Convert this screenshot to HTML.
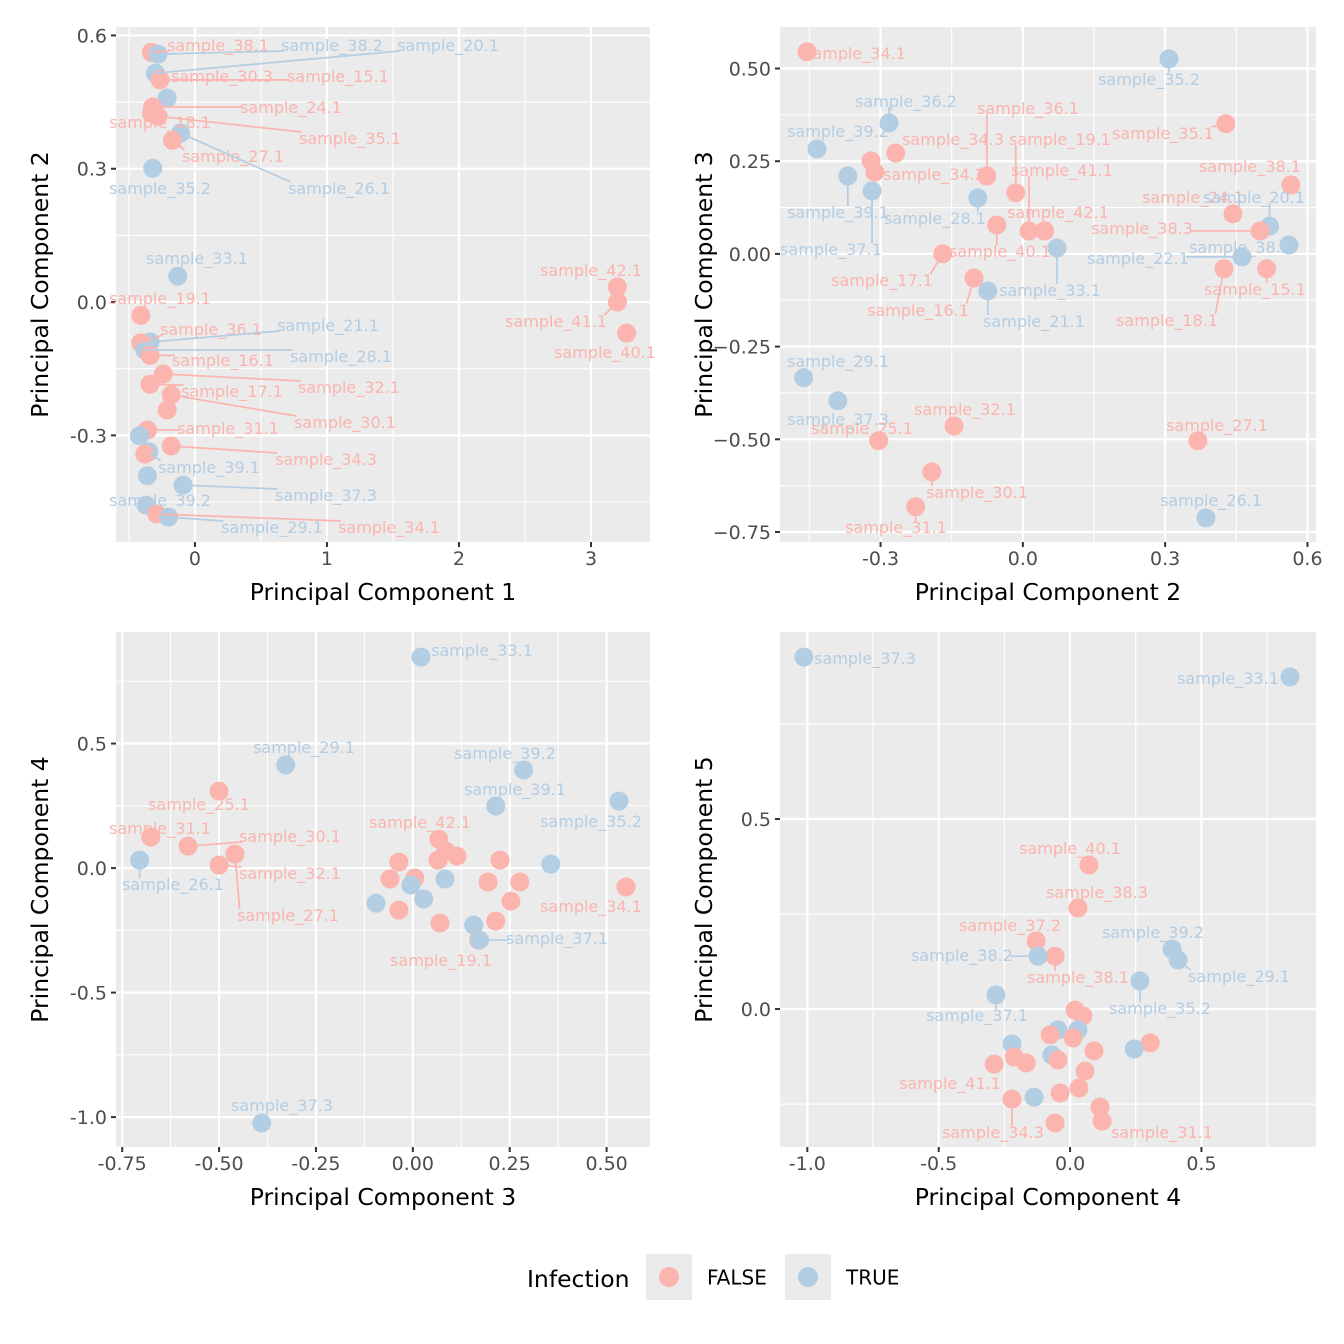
<!DOCTYPE html>
<html><head><meta charset="utf-8"><style>
html,body{margin:0;padding:0;background:#fff;}
svg{display:block;font-family:"DejaVu Sans","Liberation Sans",sans-serif;}
</style></head><body>
<svg id="chart" width="1344" height="1344" viewBox="0 0 1344 1344" xmlns="http://www.w3.org/2000/svg"></svg>
<script>
// ---------- DATA ----------
const p1X = [-0.33,-0.28,-0.30,-0.265,-0.21,-0.32,-0.33,-0.28,-0.11,-0.17,-0.32,-0.13,3.20,3.20,3.27,-0.41,-0.34,-0.41,-0.38,-0.34,-0.24,-0.34,-0.18,-0.21,-0.36,-0.42,-0.18,-0.35,-0.38,-0.36,-0.09,-0.37,-0.29,-0.20];
const p1Y = [0.562,0.558,0.515,0.50,0.459,0.439,0.425,0.418,0.38,0.364,0.301,0.058,0.034,0.0,-0.07,-0.03,-0.09,-0.092,-0.108,-0.12,-0.162,-0.185,-0.209,-0.243,-0.288,-0.301,-0.324,-0.337,-0.342,-0.391,-0.412,-0.457,-0.477,-0.484];
const p1Inf = [0,1,1,0,1,0,0,0,1,0,1,1,0,0,0,0,1,0,1,0,0,0,0,0,0,1,0,1,0,1,1,1,0,1];
const p1Names = ["sample_38.1","sample_38.2","sample_20.1","sample_30.3","sample_15.1","sample_24.1","sample_18.1","sample_35.1","sample_27.1","sample_35.2","sample_26.1","sample_33.1","sample_42.1","sample_41.1","sample_40.1","sample_19.1","sample_36.1","sample_21.1","sample_16.1","sample_28.1","sample_32.1","sample_17.1","sample_30.1","sample_31.1","sample_34.3","sample_39.1","sample_37.3","sample_39.2","sample_29.1","sample_34.1"];
const p1LabPt = [0,1,2,3,3,5,6,7,9,10,8,11,12,13,14,15,17,16,19,18,20,21,22,24,26,27,30,31,33,32];
const p1LabPos = [[218,45],[332,45],[448,45],[222,76],[338,76],[291,107],[160,122],[350,138],[233,156],[160,188],[339,188],[197,258],[591,270],[556,321],[605,352],[160,298],[211,329],[328,325],[223,360],[341,356],[349,387],[232,391],[345,422],[228,428],[326,459],[209,467],[326,495],[160,500],[272,527],[389,527]];

const p2X = [-0.455,0.308,-0.282,0.428,-0.434,-0.32,-0.268,-0.312,-0.369,-0.318,-0.076,-0.015,-0.095,0.565,0.443,0.52,-0.055,0.013,0.046,0.50,0.561,0.072,-0.169,0.462,0.424,0.514,-0.103,-0.074,-0.462,-0.39,-0.145,-0.304,0.369,-0.192,-0.226,0.386];
const p2Y = [0.545,0.526,0.353,0.351,0.283,0.251,0.272,0.221,0.21,0.17,0.21,0.165,0.151,0.186,0.108,0.075,0.078,0.062,0.062,0.062,0.024,0.016,0.0,-0.008,-0.04,-0.04,-0.065,-0.1,-0.334,-0.396,-0.464,-0.504,-0.504,-0.588,-0.682,-0.712];
const p2Inf = [0,1,1,0,1,0,0,0,1,1,0,0,1,0,0,1,0,0,0,0,1,1,0,1,0,0,0,1,1,1,0,0,0,0,0,1];
const p2Names = ["sample_34.1","sample_35.2","sample_36.2","sample_36.1","sample_35.1","sample_39.2","sample_34.3","sample_19.1","sample_38.1","sample_34.2","sample_41.1","sample_24.1","sample_20.1","sample_39.1","sample_28.1","sample_42.1","sample_38.3","sample_37.1","sample_40.1","sample_38.2","sample_22.1","sample_17.1","sample_33.1","sample_15.1","sample_16.1","sample_21.1","sample_18.1","sample_29.1","sample_37.3","sample_32.1","sample_25.1","sample_27.1","sample_30.1","sample_31.1","sample_26.1"];
const p2LabPt = [0,1,2,10,3,4,6,11,13,7,17,14,15,8,12,18,19,9,16,20,23,22,21,25,26,27,24,28,29,30,31,32,33,34,35];
const p2LabPos = [[855,53],[1149,79],[906,101],[1028,108],[1163,133],[838,131],[953,139],[1060,139],[1250,166],[934,174],[1062,170],[1193,197],[1254,197],[838,212],[935,218],[1058,212],[1142,228],[831,249],[1000,251],[1240,247],[1138,258],[882,280],[1050,290],[1255,289],[918,310],[1034,321],[1167,320],[838,361],[838,419],[965,409],[862,428],[1217,425],[977,492],[896,527],[1211,500]];

const p3X = [0.021,-0.328,0.286,-0.50,0.214,0.532,-0.676,0.067,-0.58,-0.459,0.085,0.114,-0.705,-0.036,0.065,0.225,0.356,-0.50,-0.059,0.005,0.083,-0.005,0.194,0.276,0.55,0.028,0.253,-0.095,-0.036,0.07,0.214,0.157,0.17,0.172,-0.39];
const p3Y = [0.847,0.414,0.394,0.309,0.249,0.269,0.124,0.116,0.088,0.056,0.068,0.048,0.032,0.024,0.032,0.032,0.016,0.012,-0.044,-0.04,-0.044,-0.068,-0.056,-0.056,-0.076,-0.124,-0.133,-0.141,-0.169,-0.221,-0.213,-0.229,-0.289,-0.289,-1.024];
const p3Inf = [1,1,1,0,1,1,0,0,0,0,0,0,1,0,0,0,1,0,0,0,1,1,0,0,0,1,0,1,0,0,0,1,0,1,1];
const p3Names = ["sample_33.1","sample_29.1","sample_39.2","sample_39.1","sample_25.1","sample_35.2","sample_42.1","sample_31.1","sample_30.1","sample_26.1","sample_32.1","sample_27.1","sample_34.1","sample_37.1","sample_19.1","sample_37.3"];
const p3LabPt = [0,1,2,4,3,5,7,6,8,12,17,9,24,33,32,34];
const p3LabPos = [[482,650],[304,747],[505,753],[515,789],[199,804],[591,821],[420,822],[160,828],[290,836],[173,884],[290,873],[288,915],[591,906],[557,938],[441,960],[282,1105]];

const p4X = [-1.013,0.837,0.072,0.03,-0.129,-0.057,-0.122,0.388,0.411,0.266,-0.282,0.019,0.049,-0.046,0.03,-0.076,0.011,0.305,-0.221,0.091,0.244,-0.069,-0.213,-0.046,-0.167,-0.289,0.057,0.034,-0.038,-0.137,-0.221,0.114,0.122,-0.057];
const p4Y = [0.926,0.874,0.379,0.266,0.179,0.139,0.139,0.158,0.129,0.074,0.037,-0.003,-0.018,-0.055,-0.055,-0.068,-0.076,-0.089,-0.092,-0.11,-0.105,-0.121,-0.126,-0.134,-0.142,-0.145,-0.163,-0.208,-0.221,-0.232,-0.237,-0.258,-0.295,-0.30];
const p4Inf = [1,1,0,0,0,0,1,1,1,1,1,0,0,1,1,0,0,0,1,0,1,1,0,0,0,0,0,0,0,1,0,0,0,0];
const p4Names = ["sample_37.3","sample_33.1","sample_40.1","sample_38.3","sample_37.2","sample_39.2","sample_38.2","sample_38.1","sample_29.1","sample_35.2","sample_37.1","sample_41.1","sample_34.3","sample_31.1"];
const p4LabPt = [0,1,2,3,4,7,6,5,8,9,10,25,30,32];
const p4LabPos = [[865,658],[1228,678],[1070,848],[1097,892],[1010,925],[1153,932],[962,955],[1078,977],[1239,976],[1160,1008],[977,1015],[950,1083],[993,1132],[1162,1132]];

const p1XTicks=[0,1,2,3], p1XTickLabels=["0","1","2","3"];
const p1YTicks=[-0.3,0,0.3,0.6], p1YTickLabels=["-0.3","0.0","0.3","0.6"];
const p2XTicks=[-0.3,0,0.3,0.6], p2XTickLabels=["-0.3","0.0","0.3","0.6"];
const p2YTicks=[-0.75,-0.5,-0.25,0,0.25,0.5], p2YTickLabels=["\u22120.75","\u22120.50","\u22120.25","0.00","0.25","0.50"];
const p3XTicks=[-0.75,-0.5,-0.25,0,0.25,0.5], p3XTickLabels=["-0.75","-0.50","-0.25","0.00","0.25","0.50"];
const p3YTicks=[-1,-0.5,0,0.5], p3YTickLabels=["-1.0","-0.5","0.0","0.5"];
const p4XTicks=[-1,-0.5,0,0.5], p4XTickLabels=["-1.0","-0.5","0.0","0.5"];
const p4YTicks=[0,0.5], p4YTickLabels=["0.0","0.5"];

// ---------- DRAW ----------
const NS="http://www.w3.org/2000/svg";
const svg=document.getElementById('chart');
const COL=["#FBB4AE","#B3CDE3"];
function mk(tag,attrs,parent){const e=document.createElementNS(NS,tag);for(const k in attrs)e.setAttribute(k,attrs[k]);(parent||svg).appendChild(e);return e;}

function panel(c){
  const g=mk('g',{});
  
  
  const sx=v=>c.L+(v-c.xmin)/(c.xmax-c.xmin)*(c.R-c.L);
  const sy=v=>c.B-(v-c.ymin)/(c.ymax-c.ymin)*(c.B-c.T);
  const bg=mk('rect',{x:c.L,y:c.T,width:c.R-c.L,height:c.B-c.T,fill:'#EBEBEB'},g);
  
  
  function minors(t,min,max){const m=[];const s=t[1]-t[0];for(let i=-1;i<t.length;i++){const v=t[0]+(i+0.5)*s;if(v>min&&v<max)m.push(v);}return m;}
  minors(c.xt,c.xmin,c.xmax).forEach(v=>{const l=mk('line',{x1:sx(v),x2:sx(v),y1:c.T,y2:c.B,stroke:'#fff','stroke-width':1.1},g);});
  minors(c.yt,c.ymin,c.ymax).forEach(v=>{const l=mk('line',{x1:c.L,x2:c.R,y1:sy(v),y2:sy(v),stroke:'#fff','stroke-width':1.1},g);});
  c.xt.forEach((v,i)=>{
    const l=mk('line',{x1:sx(v),x2:sx(v),y1:c.T,y2:c.B,stroke:'#fff','stroke-width':2.2},g);
    
    const tk=mk('line',{x1:sx(v),x2:sx(v),y1:c.B,y2:c.B+5,stroke:'#333','stroke-width':2},g);
    
    const t=mk('text',{x:sx(v),y:c.B+23,'text-anchor':'middle','font-size':19,fill:'#4D4D4D'},g);t.textContent=c.xl[i];
    
  });
  c.yt.forEach((v,i)=>{
    const l=mk('line',{x1:c.L,x2:c.R,y1:sy(v),y2:sy(v),stroke:'#fff','stroke-width':2.2},g);
    
    const tk=mk('line',{x1:c.L-5,x2:c.L,y1:sy(v),y2:sy(v),stroke:'#333','stroke-width':2},g);
    
    const t=mk('text',{x:c.L-9,y:sy(v)+7,'text-anchor':'end','font-size':19,fill:'#4D4D4D'},g);t.textContent=c.yl[i];
    
  });
  const xt=mk('text',{x:(c.L+c.R)/2,y:c.B+50,'text-anchor':'middle','dominant-baseline':'central','font-size':23.5,fill:'#000'},g);xt.textContent=c.xtitle;
  
  const yx=c.L-76, yy=(c.T+c.B)/2;
  const yt=mk('text',{x:yx,y:yy,'text-anchor':'middle','dominant-baseline':'central','font-size':23.5,fill:'#000',transform:`rotate(-90 ${yx} ${yy})`},g);yt.textContent=c.ytitle;
  
  c.X.forEach((v,i)=>{
    const p=mk('circle',{cx:sx(v),cy:sy(c.Y[i]),r:9.5,fill:COL[c.I[i]]},g);
    
    
  });
  c.names.forEach((nm,j)=>{
    const pi=c.lp[j];const px=sx(c.X[pi]),py=sy(c.Y[pi]);
    const [lx,ly]=c.pos[j];const w=nm.length*8.8,h=12;
    const qx=Math.max(lx-w/2,Math.min(px,lx+w/2)),qy=Math.max(ly-h/2,Math.min(py,ly+h/2));
    const d=Math.hypot(px-qx,py-qy);
    const col=COL[c.I[pi]];
    if(d>14){
      const s=mk('line',{x1:qx,y1:qy,x2:px,y2:py,stroke:col,'stroke-width':1.7},g);
      
    }
    const t=mk('text',{x:lx,y:ly+6,'text-anchor':'middle','font-size':16,fill:col},g);t.textContent=nm;
    
  });
}

panel({name:'panel-pc1-pc2',L:116,R:650,T:27,B:542,xmin:-0.598,xmax:3.447,ymin:-0.540,ymax:0.619,xt:p1XTicks,xl:p1XTickLabels,yt:p1YTicks,yl:p1YTickLabels,xtitle:'Principal Component 1',ytitle:'Principal Component 2',X:p1X,Y:p1Y,I:p1Inf,names:p1Names,lp:p1LabPt,pos:p1LabPos});
panel({name:'panel-pc2-pc3',L:780,R:1316,T:27,B:542,xmin:-0.512,xmax:0.618,ymin:-0.777,ymax:0.612,xt:p2XTicks,xl:p2XTickLabels,yt:p2YTicks,yl:p2YTickLabels,xtitle:'Principal Component 2',ytitle:'Principal Component 3',X:p2X,Y:p2Y,I:p2Inf,names:p2Names,lp:p2LabPt,pos:p2LabPos});
panel({name:'panel-pc3-pc4',L:116,R:650,T:632,B:1147,xmin:-0.766,xmax:0.612,ymin:-1.12,ymax:0.948,xt:p3XTicks,xl:p3XTickLabels,yt:p3YTicks,yl:p3YTickLabels,xtitle:'Principal Component 3',ytitle:'Principal Component 4',X:p3X,Y:p3Y,I:p3Inf,names:p3Names,lp:p3LabPt,pos:p3LabPos});
panel({name:'panel-pc4-pc5',L:780,R:1316,T:632,B:1147,xmin:-1.104,xmax:0.936,ymin:-0.363,ymax:0.992,xt:p4XTicks,xl:p4XTickLabels,yt:p4YTicks,yl:p4YTickLabels,xtitle:'Principal Component 4',ytitle:'Principal Component 5',X:p4X,Y:p4Y,I:p4Inf,names:p4Names,lp:p4LabPt,pos:p4LabPos});

const lg=mk('g',{});


const lt=mk('text',{x:527,y:1287,'font-size':23.5,fill:'#000'},lg);lt.textContent='Infection';

[["FALSE",646,707],["TRUE",785,846]].forEach((e,i)=>{
  const k=mk('rect',{x:e[1],y:1254,width:46,height:46,fill:'#EBEBEB'},lg);
  
  const c=mk('circle',{cx:e[1]+23,cy:1277,r:10,fill:COL[i]},lg);
  
  const t=mk('text',{x:e[2],y:1284.5,'font-size':20,fill:'#000'},lg);t.textContent=e[0];
  
});
</script>
</body></html>
